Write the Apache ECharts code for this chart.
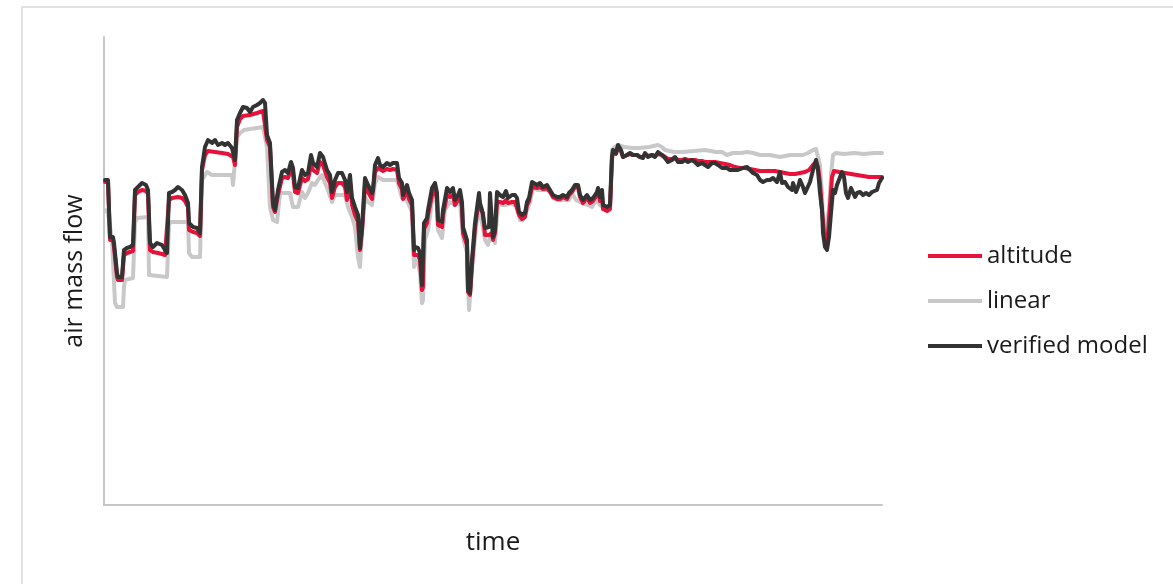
<!DOCTYPE html>
<html>
<head>
<meta charset="utf-8">
<title>air mass flow</title>
<script src="https://cdn.jsdelivr.net/npm/echarts@6/dist/echarts.min.js"></script>
<style>
  html, body { margin: 0; padding: 0; background: #fff; }
  #chart { width: 1173px; height: 584px; }
</style>
</head>
<body>
<div id="chart"></div>
<script>
// Series names shown in the legend
const seriesNames = ['altitude', 'linear', 'verified model'];

// Axis extents (time in s, air mass flow in arbitrary units)
const timeMax = 778;
const flowMax = 468;

// [time, air mass flow] samples, one list per model
const verified = [
  [1,325],[4,325],[6,268],[9,268],[10,262],[13,232],[14,228],[18,228],[19,230],[20,255],
  [23,257],[26,258],[29,260],[31,315],[34,318],[38,322],[42,320],[44,315],[46,262],[49,258],
  [53,262],[54,263],[58,260],[61,255],[63,252],[65,312],[68,313],[71,315],[74,318],[78,315],
  [81,310],[84,302],[85,282],[89,278],[93,277],[96,272],[98,338],[101,358],[104,365],[108,362],
  [111,365],[114,360],[118,362],[121,360],[124,362],[128,357],[129,353],[131,345],[133,385],[136,392],
  [139,398],[143,397],[146,393],[149,398],[153,400],[156,402],[159,405],[161,402],[163,370],[166,362],
  [169,302],[171,295],[174,315],[178,333],[181,335],[184,332],[187,343],[189,337],[191,318],[194,317],
  [198,335],[201,330],[204,332],[207,350],[209,342],[213,338],[216,352],[219,348],[223,335],[226,330],
  [228,313],[231,325],[234,332],[238,332],[241,325],[243,313],[246,330],[248,307],[251,298],[254,290],
  [256,257],[258,278],[261,327],[264,320],[268,312],[269,315],[271,340],[274,347],[276,340],[279,338],
  [283,342],[286,340],[289,342],[293,342],[295,327],[298,322],[299,310],[303,320],[305,312],[308,305],
  [310,255],[311,258],[314,257],[316,252],[318,220],[319,222],[320,282],[323,287],[324,295],[328,317],
  [331,322],[333,312],[334,285],[338,283],[339,295],[343,317],[346,313],[349,317],[351,305],[354,310],
  [356,315],[358,303],[359,278],[363,265],[364,215],[366,212],[368,245],[371,282],[373,297],[375,312],
  [376,302],[378,295],[379,295],[381,277],[383,275],[385,278],[386,312],[388,282],[389,268],[391,275],
  [393,313],[396,310],[399,308],[402,314],[404,307],[408,310],[411,310],[413,307],[415,293],[418,290],
  [421,292],[423,303],[425,307],[428,323],[430,325],[433,320],[436,322],[439,318],[443,320],[446,315],
  [449,310],[453,308],[456,308],[459,310],[463,308],[465,312],[468,315],[471,320],[474,320],[476,310],
  [479,305],[483,310],[486,305],[489,307],[493,313],[494,317],[496,308],[498,315],[499,300],[503,298],
  [506,300],[508,348],[509,355],[512,352],[514,360],[517,355],[519,348],[523,350],[526,352],[529,350],
  [533,350],[536,348],[539,347],[541,352],[544,348],[548,350],[551,348],[554,353],[558,350],[561,347],
  [564,343],[568,345],[571,348],[574,343],[578,343],[581,345],[584,343],[588,345],[591,343],[594,340],
  [598,342],[601,340],[604,338],[608,342],[611,342],[614,340],[618,337],[623,337],[626,335],[629,335],
  [634,335],[639,337],[643,338],[646,335],[649,332],[653,330],[656,325],[659,323],[663,325],[666,325],
  [669,327],[673,323],[676,333],[678,322],[681,323],[684,318],[688,315],[689,322],[692,313],[694,318],
  [696,325],[699,318],[701,312],[703,313],[706,323],[709,335],[712,345],[714,335],[716,312],[718,295],
  [719,272],[721,258],[723,255],[725,268],[727,292],[729,315],[731,312],[733,320],[735,318],[738,333],
  [740,328],[742,312],[744,307],[747,317],[749,315],[751,308],[753,312],[756,313],[759,310],[762,312],
  [765,310],[768,313],[770,312],[773,315],[775,322],[778,327]
];

const altitude = [
  [1,323],[4,323],[6,265],[9,265],[10,258],[13,228],[14,225],[18,225],[19,227],[20,250],
  [23,252],[29,254],[31,310],[34,313],[38,315],[42,314],[44,311],[46,255],[49,253],[54,252],
  [58,251],[61,250],[63,248],[65,305],[68,307],[74,308],[78,307],[81,304],[84,298],[85,275],
  [89,273],[93,272],[96,269],[98,335],[101,350],[104,354],[111,353],[118,352],[124,351],[129,348],
  [131,340],[133,378],[136,386],[139,389],[146,390],[153,392],[159,394],[161,393],[163,365],[166,358],
  [169,298],[171,293],[174,310],[178,327],[181,328],[184,327],[187,335],[189,331],[191,313],[194,312],
  [198,327],[201,324],[204,326],[207,340],[209,335],[213,332],[216,343],[219,340],[223,328],[226,322],
  [228,307],[231,318],[234,322],[238,322],[241,318],[243,305],[246,322],[248,300],[251,290],[254,283],
  [256,255],[258,273],[261,320],[264,313],[268,306],[271,333],[274,337],[276,335],[279,334],[283,336],
  [286,335],[289,336],[293,335],[295,322],[298,316],[299,306],[303,314],[305,306],[308,300],[310,250],
  [314,250],[316,245],[318,215],[319,218],[320,276],[323,282],[324,290],[328,310],[331,315],[333,306],
  [334,280],[338,278],[339,290],[343,310],[346,308],[349,310],[351,300],[354,305],[356,308],[358,298],
  [359,272],[363,260],[364,213],[366,210],[368,240],[371,277],[373,292],[375,305],[376,297],[379,292],
  [381,270],[383,268],[385,270],[386,268],[388,272],[389,265],[391,272],[393,303],[396,303],[399,302],
  [402,305],[404,302],[408,303],[411,303],[413,301],[415,290],[418,286],[421,288],[423,300],[425,304],
  [428,318],[430,320],[433,317],[436,318],[439,316],[443,317],[446,313],[449,308],[453,306],[456,306],
  [459,308],[463,306],[465,310],[468,313],[471,318],[474,318],[476,308],[479,302],[483,307],[486,302],
  [489,304],[493,310],[494,314],[496,304],[498,311],[499,296],[503,294],[506,296],[508,346],[509,353],
  [512,351],[514,358],[517,354],[519,348],[523,350],[526,351],[529,350],[533,350],[536,348],[539,348],
  [541,351],[544,349],[548,350],[551,349],[554,351],[558,350],[561,348],[564,346],[568,346],[571,347],
  [574,345],[578,345],[581,346],[584,345],[588,345],[591,345],[594,344],[598,344],[601,343],[606,343],
  [611,343],[616,342],[621,341],[626,340],[631,338],[636,337],[641,337],[646,336],[651,335],[656,334],
  [661,334],[666,334],[671,334],[676,333],[681,332],[686,331],[691,331],[696,332],[701,333],[705,335],
  [709,340],[712,343],[714,338],[716,322],[718,295],[720,272],[722,265],[724,272],[726,300],[728,328],
  [730,334],[735,333],[741,332],[747,331],[753,330],[759,329],[765,328],[771,328],[778,328]
];

const linear = [
  [1,295],[4,292],[8,265],[11,202],[13,198],[19,198],[20,218],[21,225],[23,227],[29,227],
  [31,282],[33,287],[44,288],[45,230],[46,228],[63,228],[65,280],[67,283],[84,283],[85,252],
  [88,248],[96,248],[98,325],[103,333],[108,330],[128,330],[129,320],[133,368],[136,372],[140,375],
  [159,378],[161,378],[163,358],[166,298],[169,285],[173,283],[176,312],[183,312],[186,312],[189,298],
  [194,298],[198,313],[201,307],[204,312],[208,322],[211,320],[214,325],[218,330],[221,322],[224,315],
  [228,303],[231,310],[234,310],[241,310],[244,298],[248,288],[251,278],[254,248],[256,238],[258,275],
  [261,308],[264,303],[268,300],[271,322],[274,328],[279,325],[293,325],[298,307],[301,307],[304,302],
  [308,293],[310,238],[311,245],[314,242],[316,232],[318,202],[319,205],[321,265],[324,275],[328,303],
  [331,310],[333,300],[334,275],[338,267],[341,295],[346,303],[351,300],[353,298],[356,303],[359,268],
  [363,252],[365,195],[368,235],[371,268],[374,295],[378,282],[381,265],[384,260],[388,275],[391,262],
  [394,302],[398,300],[402,300],[407,302],[410,300],[413,300],[416,285],[419,285],[423,295],[426,303],
  [429,318],[433,315],[439,315],[446,315],[449,307],[453,305],[461,305],[465,305],[468,312],[472,305],
  [478,302],[484,300],[488,298],[492,305],[496,300],[501,297],[504,297],[506,300],[508,355],[511,358],
  [514,360],[520,358],[528,357],[535,357],[545,358],[554,360],[558,358],[561,355],[570,353],[578,353],
  [590,354],[601,355],[612,353],[618,353],[623,350],[629,352],[637,352],[643,353],[649,352],[656,350],
  [666,350],[676,348],[686,350],[694,350],[699,350],[704,352],[709,355],[712,356],[714,354],[716,340],
  [718,310],[719,285],[721,275],[723,275],[725,295],[727,330],[729,350],[732,352],[740,351],[750,352],
  [760,351],[770,352],[778,352]
];

const colors = { altitude: '#e8113a', linear: '#c8c8c8', verified: '#333333' };
const fontFamily = '"Open Sans", "Noto Sans", sans-serif';

const chart = echarts.init(document.getElementById('chart'), null, { renderer: 'canvas' });

function lineSeries(name, data, color, z) {
  return {
    name: name,
    type: 'line',
    data: data,
    showSymbol: false,
    symbol: 'none',
    z: z,
    lineStyle: { color: color, width: 4, join: 'round', cap: 'round' },
    itemStyle: { color: color },
    emphasis: { disabled: true }
  };
}

chart.setOption({
  animation: false,
  backgroundColor: '#ffffff',
  textStyle: { fontFamily: fontFamily },
  graphic: [{
    type: 'rect',
    shape: { x: 22, y: 7, width: 1200, height: 620 },
    style: { fill: 'none', stroke: '#d9d9d9', lineWidth: 1.5 },
    silent: true,
    z: -10
  }],
  grid: { left: 104, right: 291, top: 37, bottom: 79 },
  legend: {
    orient: 'vertical',
    left: 928,
    top: 244,
    padding: 0,
    icon: 'rect',
    itemWidth: 54,
    itemHeight: 4,
    itemGap: 21,
    data: seriesNames,
    textStyle: { fontFamily: fontFamily, fontSize: 24, color: '#1a1a1a', lineHeight: 22, padding: [0, 0, 0, 0] }
  },
  xAxis: {
    type: 'value',
    min: 0,
    max: timeMax,
    name: 'time',
    nameLocation: 'middle',
    nameGap: 25,
    nameTextStyle: { fontFamily: fontFamily, fontSize: 26, color: '#1a1a1a' },
    axisLine: { show: true, lineStyle: { color: '#c6c6c6', width: 2 } },
    axisTick: { show: false },
    axisLabel: { show: false },
    splitLine: { show: false }
  },
  yAxis: {
    type: 'value',
    min: 0,
    max: flowMax,
    name: 'air mass flow',
    nameLocation: 'middle',
    nameGap: 17,
    nameTextStyle: { fontFamily: fontFamily, fontSize: 25, color: '#1a1a1a' },
    axisLine: { show: true, lineStyle: { color: '#c6c6c6', width: 2 } },
    axisTick: { show: false },
    axisLabel: { show: false },
    splitLine: { show: false }
  },
  series: [
    lineSeries('linear', linear, colors.linear, 1),
    lineSeries('altitude', altitude, colors.altitude, 2),
    lineSeries('verified model', verified, colors.verified, 3)
  ]
});
</script>
</body>
</html>
